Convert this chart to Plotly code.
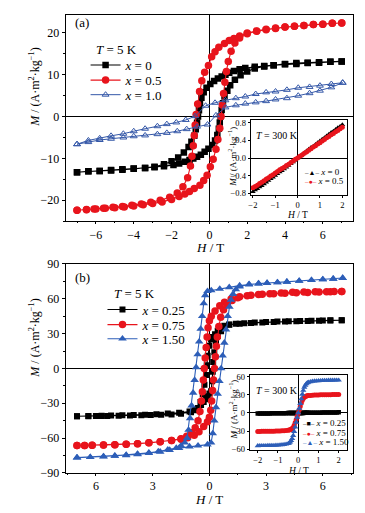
import plotly.graph_objects as go

# page body has an 8px margin: the figure is placed at (8, 8) in the 365x513 window
OFF = 8
W, H = 365 - OFF, 513 - OFF
FONT = "Liberation Serif"
BLACK = "#000000"
RED = "#e8141c"
BLUE_A = "#3558a8"
BLUE_B = "#2d5eb8"

# ---------------- Panel (a): T = 5 K ----------------
a0_H_desc = [7.0, 6.4, 5.8, 5.2, 4.6, 4.0, 3.4, 2.9, 2.4, 1.9, 1.6, 1.3, 1.05, 0.85, 0.65, 0.45, 0.25, 0.05,
             -0.15, -0.3, -0.42, -0.5, -0.55, -0.6, -0.65, -0.72, -0.8, -0.95, -1.1, -1.35, -1.65, -2.0,
             -2.4, -2.9, -3.4, -4.0, -4.6, -5.2, -5.8, -6.4, -7.0]
a0_M_desc = [13.2, 13.1, 12.9, 12.8, 12.6, 12.5, 12.3, 12.1, 11.9, 11.6, 11.3, 10.9, 10.5, 10.0, 9.6, 9.1, 8.5, 7.8,
             6.9, 5.8, 4.5, 3.0, 1.5, 0.0, -1.5, -3.0, -4.6, -6.0, -7.3, -8.6, -9.8, -10.7,
             -11.4, -12.0, -12.3, -12.5, -12.7, -12.9, -13.0, -13.1, -13.3]
a0_H_asc = [-7.0, -6.4, -5.8, -5.2, -4.6, -4.0, -3.4, -2.9, -2.4, -1.9, -1.6, -1.3, -1.05, -0.85, -0.65, -0.45,
            -0.25, -0.05, 0.15, 0.3, 0.42, 0.5, 0.55, 0.6, 0.65, 0.72, 0.8, 0.95, 1.1, 1.35, 1.65, 2.0,
            2.4, 2.9, 3.4, 4.0, 4.6, 5.2, 5.8, 6.4, 7.0]
a0_M_asc = [-13.3, -13.1, -13.0, -12.8, -12.6, -12.4, -12.3, -12.1, -11.9, -11.6, -11.2, -10.8, -10.4, -10.0,
            -9.6, -9.1, -8.4, -7.7, -6.8, -5.7, -4.4, -2.9, -1.4, 0.1, 1.6, 3.2, 4.8, 6.2, 7.5, 8.8, 9.9, 10.8,
            11.5, 12.0, 12.3, 12.6, 12.8, 12.9, 13.0, 13.1, 13.2]

a5_H_desc = [7.0, 6.5, 6.0, 5.5, 5.0, 4.5, 4.0, 3.5, 3.0, 2.5, 2.0, 1.6, 1.3, 1.05, 0.8, 0.5, 0.3, 0.12, -0.05,
             -0.25, -0.4, -0.52, -0.62, -0.7, -0.75, -0.8, -0.85, -0.92, -1.0, -1.15, -1.4, -1.7, -2.1, -2.6,
             -3.1, -3.6, -4.1, -4.6, -5.1, -5.6, -6.1, -6.5, -7.0]
a5_M_desc = [22.4, 22.3, 22.1, 22.0, 21.8, 21.6, 21.4, 21.2, 20.9, 20.5, 20.0, 19.3, 18.7, 18.2, 17.5, 16.6, 15.5,
             14.3, 12.2, 10.6, 8.6, 6.0, 3.0, 0.5, -2.0, -4.5, -7.0, -9.5, -11.8, -14.6, -16.8, -18.3, -19.3,
             -20.0, -20.5, -20.9, -21.2, -21.5, -21.7, -21.9, -22.1, -22.2, -22.4]
a5_H_asc = [-7.0, -6.5, -6.0, -5.5, -5.0, -4.5, -4.0, -3.5, -3.0, -2.5, -2.0, -1.6, -1.3, -1.05, -0.8, -0.5, -0.3,
            -0.12, 0.05, 0.2, 0.35, 0.45, 0.55, 0.62, 0.68, 0.75, 0.82, 0.9, 1.0, 1.15, 1.35, 1.6, 2.0, 2.5,
            3.0, 3.5, 4.0, 4.5, 5.0, 5.5, 6.0, 6.5, 7.0]
a5_M_asc = [-22.4, -22.3, -22.1, -21.9, -21.8, -21.6, -21.4, -21.1, -20.8, -20.4, -19.8, -19.1, -18.5, -17.9,
            -17.2, -16.4, -15.3, -14.0, -12.0, -10.2, -7.8, -5.5, -2.8, 0.0, 2.8, 5.5, 8.2, 10.8, 13.2, 15.6,
            17.6, 18.8, 19.8, 20.4, 20.8, 21.1, 21.4, 21.6, 21.8, 22.0, 22.1, 22.3, 22.4]

a10_H_desc = [7.05, 6.45, 5.85, 5.3, 4.7, 4.1, 3.5, 3.0, 2.45, 1.9, 1.4, 0.85, 0.3, -0.2, -0.75, -1.25, -1.75,
              -2.25, -2.75, -3.4, -4.0, -4.55, -5.2, -5.8, -6.4, -7.0]
a10_M_desc = [8.1, 7.8, 7.4, 7.1, 6.9, 6.4, 6.0, 5.8, 5.4, 4.8, 4.4, 3.9, 3.3, 2.6, 0.1, -0.8, -1.4, -1.8, -2.3,
              -2.9, -3.5, -4.1, -4.6, -5.2, -5.7, -6.6]
a10_H_asc = [-7.0, -6.4, -5.8, -5.2, -4.55, -4.0, -3.4, -2.75, -2.25, -1.7, -1.2, -0.65, -0.1, 0.35, 0.85, 1.4,
             1.9, 2.45, 3.0, 3.5, 4.1, 4.7, 5.3, 5.85, 6.45, 7.05]
a10_M_asc = [-6.6, -6.1, -5.6, -5.3, -5.0, -4.7, -4.5, -4.2, -3.9, -3.5, -3.0, -2.4, -1.9, 0.3, 2.2, 2.7, 3.1,
             3.4, 3.7, 4.1, 4.4, 5.0, 5.6, 6.2, 7.0, 8.1]

# Inset (a): T = 300 K
ai_H = [-2.0, -1.9, -1.8, -1.7, -1.6, -1.5, -1.4, -1.3, -1.2, -1.1, -1.0, -0.9, -0.8, -0.7, -0.6, -0.5, -0.4,
        -0.3, -0.2, -0.1, 0.0, 0.1, 0.2, 0.3, 0.4, 0.5, 0.6, 0.7, 0.8, 0.9, 1.0, 1.1, 1.2, 1.3, 1.4, 1.5, 1.6,
        1.7, 1.8, 1.9, 2.0]
ai_M0 = [-0.77, -0.73, -0.70, -0.66, -0.63, -0.59, -0.55, -0.51, -0.47, -0.44, -0.40, -0.36, -0.32, -0.29, -0.25,
         -0.21, -0.17, -0.13, -0.09, -0.05, 0.0, 0.04, 0.08, 0.12, 0.16, 0.20, 0.24, 0.27, 0.31, 0.35, 0.39, 0.43,
         0.46, 0.50, 0.54, 0.58, 0.61, 0.65, 0.69, 0.72, 0.76]
ai_M5 = [-0.68, -0.65, -0.62, -0.58, -0.55, -0.52, -0.48, -0.45, -0.41, -0.38, -0.34, -0.31, -0.27, -0.24, -0.21,
         -0.17, -0.14, -0.10, -0.07, -0.03, 0.0, 0.04, 0.07, 0.11, 0.14, 0.18, 0.21, 0.25, 0.28, 0.32, 0.35, 0.39,
         0.42, 0.46, 0.49, 0.53, 0.56, 0.60, 0.63, 0.67, 0.70]

# ---------------- Panel (b): T = 5 K ----------------
b25_H_desc = [7.0, 6.4, 5.8, 5.2, 4.6, 4.0, 3.4, 2.8, 2.2, 1.6, 1.05, 0.79, 0.6, 0.44, 0.3, 0.18, 0.09, 0.0, -0.09,
              -0.14, -0.18, -0.26, -0.35, -0.47, -0.7, -0.97, -1.5, -2.0, -2.55, -3.1, -3.6, -4.2, -4.8,
              -5.4, -5.7, -6.0, -6.4, -7.0]
b25_M_desc = [41.5, 41.3, 41.1, 40.9, 40.6, 40.3, 40.0, 39.6, 39.1, 38.5, 37.8, 36.8, 35.0, 32.5, 29.5, 27.0,
              25.0, 19.6, 11.0, 2.8, -5.6, -14.0, -22.0, -29.0, -35.0, -37.7, -39.0, -39.6, -40.0, -40.2,
              -40.4, -40.6, -40.8, -40.9, -41.0, -41.0, -41.1, -41.2]
b25_H_asc = [-7.0, -6.4, -5.85, -5.7, -5.2, -4.6, -4.0, -3.4, -2.8, -2.2, -1.6, -1.05, -0.79, -0.6, -0.44, -0.3,
             -0.18, -0.09, 0.0, 0.09, 0.14, 0.18, 0.2, 0.26, 0.35, 0.44, 0.62, 0.79, 1.05, 1.4, 1.85, 2.4, 3.0,
             3.6, 4.2, 4.8, 5.4, 6.0, 6.4, 7.0]
b25_M_asc = [-41.2, -41.0, -40.9, -40.8, -40.6, -40.4, -40.1, -39.8, -39.4, -38.9, -38.2, -37.2, -36.0, -34.0,
             -31.5, -29.0, -26.5, -24.0, -21.5, -19.6, -11.0, -2.8, 5.6, 14.0, 22.0, 28.0, 32.0, 35.0, 37.7, 38.5,
             39.0, 39.5, 39.9, 40.3, 40.6, 40.9, 41.1, 41.3, 41.4, 41.5]

b75_H_desc = [7.0, 6.4, 5.8, 5.2, 4.6, 4.0, 3.4, 2.8, 2.2, 1.6, 1.15, 0.8, 0.55, 0.3, 0.1, 0.0, -0.07, -0.12,
              -0.17, -0.22, -0.27, -0.32, -0.37, -0.42, -0.5, -0.6, -0.75, -0.95, -1.2, -1.5, -2.0, -2.6, -3.2,
              -3.8, -4.4, -5.0, -5.6, -6.2, -6.6, -7.0]
b75_M_desc = [66.2, 66.0, 65.7, 65.4, 65.1, 64.7, 64.3, 63.8, 63.0, 61.8, 59.8, 57.0, 54.0, 49.5, 45.0, 41.0, 35.0,
              27.0, 18.0, 9.0, 0.0, -10.0, -20.0, -28.0, -37.0, -45.0, -51.0, -55.5, -58.5, -60.5, -62.0, -63.2,
              -64.1, -64.8, -65.3, -65.7, -66.0, -66.2, -66.3, -66.4]
b75_H_asc = [-7.0, -6.6, -6.2, -5.6, -5.0, -4.4, -3.8, -3.2, -2.6, -2.0, -1.5, -1.15, -0.8, -0.55, -0.3, -0.1, 0.0,
             0.07, 0.12, 0.17, 0.22, 0.27, 0.32, 0.37, 0.42, 0.5, 0.6, 0.75, 0.95, 1.2, 1.5, 2.0, 2.6, 3.2, 3.8,
             4.4, 5.0, 5.6, 6.2, 6.6, 7.0]
b75_M_asc = [-66.4, -66.3, -66.2, -66.0, -65.7, -65.3, -64.8, -64.1, -63.2, -62.0, -61.0, -59.8, -57.5, -54.5,
             -50.0, -46.0, -42.0, -36.0, -28.0, -19.0, -10.0, 0.0, 10.0, 19.0, 27.0, 36.0, 44.0, 50.5, 55.0, 58.5,
             60.8, 62.5, 63.6, 64.4, 65.0, 65.5, 65.8, 66.0, 66.1, 66.2, 66.3]

b150_H_desc = [7.05, 6.55, 6.0, 5.4, 4.75, 4.1, 3.6, 3.05, 2.6, 2.1, 1.6, 1.05, 0.55, 0.1, -0.1, -0.22, -0.3,
               -0.38, -0.46, -0.54, -0.62, -0.7, -0.78, -0.86, -0.94, -1.02, -1.1, -1.18, -1.3, -1.5, -1.75, -2.2,
               -2.7, -3.2, -3.8, -4.4, -5.0, -5.6, -6.3, -7.0]
b150_M_desc = [77.8, 77.2, 76.6, 76.0, 75.3, 74.6, 74.0, 73.5, 73.1, 72.5, 71.3, 69.8, 68.4, 67.2, 66.5, 63.0, 56.0,
               45.0, 34.0, 23.0, 12.0, 1.0, -10.0, -21.0, -32.0, -43.0, -53.0, -60.0, -64.0, -66.5, -68.5, -70.0,
               -71.5, -72.6, -73.6, -74.5, -75.2, -75.8, -76.4, -76.8]
b150_H_asc = [-7.0, -6.3, -5.6, -5.0, -4.4, -3.8, -3.2, -2.6, -2.1, -1.6, -1.05, -0.6, -0.1, 0.09, 0.18, 0.26,
              0.35, 0.44, 0.53, 0.62, 0.7, 0.79, 0.88, 0.97, 1.06, 1.14, 1.25, 1.4, 1.6, 2.1, 2.6, 3.05, 3.6, 4.1,
              4.75, 5.4, 6.0, 6.55, 7.05]
b150_M_asc = [-76.8, -76.4, -75.9, -75.4, -74.8, -74.0, -73.0, -71.8, -70.3, -68.6, -67.3, -66.5, -65.6, -64.0,
              -56.0, -45.0, -33.5, -22.0, -11.0, 0.0, 11.0, 22.0, 33.5, 45.0, 53.0, 59.0, 64.0, 68.0, 70.5, 72.2,
              73.1, 73.5, 74.0, 74.6, 75.3, 76.0, 76.6, 77.2, 77.8]

# Inset (b): T = 300 K
bi_H = [-2.0, -1.9, -1.8, -1.7, -1.6, -1.5, -1.4, -1.3, -1.2, -1.1, -1.0, -0.9, -0.8, -0.7, -0.6,
        -0.5, -0.45, -0.4, -0.35, -0.3, -0.25, -0.2, -0.15, -0.1, -0.05, 0.0, 0.05, 0.1, 0.15, 0.2, 0.25,
        0.3, 0.35, 0.4, 0.45, 0.5,
        0.6, 0.7, 0.8, 0.9, 1.0, 1.1, 1.2, 1.3, 1.4, 1.5, 1.6, 1.7, 1.8, 1.9, 2.0]
bi_M25 = [-1.0, -0.95, -0.9, -0.85, -0.8, -0.75, -0.7, -0.65, -0.6, -0.55, -0.5, -0.45, -0.4, -0.35, -0.3,
          -0.25, -0.22, -0.2, -0.17, -0.15, -0.12, -0.1, -0.07, -0.05, -0.02, 0.0, 0.02, 0.05, 0.07, 0.1, 0.12,
          0.15, 0.17, 0.2, 0.22, 0.25,
          0.3, 0.35, 0.4, 0.45, 0.5, 0.55, 0.6, 0.65, 0.7, 0.75, 0.8, 0.85, 0.9, 0.95, 1.0]
bi_M75 = [-30.6, -30.6, -30.5, -30.5, -30.4, -30.4, -30.3, -30.3, -30.2, -30.1, -30.0, -29.9, -29.7, -29.5, -29.2,
          -28.8, -28.5, -28.0, -27.2, -26.0, -24.0, -20.5, -16.0, -10.8, -5.4, 0.0, 5.4, 10.8, 16.0, 20.5, 24.0,
          26.0, 27.2, 28.0, 28.5, 28.8,
          29.2, 29.5, 29.7, 29.9, 30.0, 30.1, 30.2, 30.3, 30.3, 30.4, 30.4, 30.5, 30.5, 30.6, 30.6]
bi_M150 = [-54.5, -54.4, -54.4, -54.3, -54.3, -54.2, -54.1, -54.0, -53.9, -53.7, -53.5, -53.2, -52.9, -52.5, -51.8,
           -51.0, -50.0, -48.5, -46.0, -42.5, -37.5, -31.0, -23.5, -15.5, -7.5, 0.0, 7.5, 15.5, 23.5, 31.0, 37.5,
           42.5, 46.0, 48.5, 50.0, 51.0,
           51.8, 52.5, 52.9, 53.2, 53.5, 53.7, 53.9, 54.0, 54.1, 54.2, 54.3, 54.3, 54.4, 54.4, 54.5]

# ---------------- Labels ----------------
legend_title = "<i>T</i> = 5 K"
legend_a_names = ["<i>x</i> = 0", "<i>x</i> = 0.5", "<i>x</i> = 1.0"]
legend_b_names = ["<i>x</i> = 0.25", "<i>x</i> = 0.75", "<i>x</i> = 1.50"]
inset_a_names = ["<i>x</i> = 0", "<i>x</i> = 0.5"]
inset_b_names = ["<i>x</i> = 0.25", "<i>x</i> = 0.75", "<i>x</i> = 1.50"]
b_xtickvals = [-6, -3, 0, 3, 6]
b_xticktext = ["6", "3", "0", "3", "6"]
ytitle = "<i>M</i> / (A·m<sup>2</sup>·kg<sup>−1</sup>)"
xtitle = "<i>H</i> / T"

fig = go.Figure()


def loop(hd, md, ha, ma):
    return hd + ha, md + ma


# Panel (a) main
x, y = loop(a0_H_desc, a0_M_desc, a0_H_asc, a0_M_asc)
fig.add_trace(go.Scatter(x=x, y=y, mode="lines+markers", name=legend_a_names[0], legend="legend",
                         line=dict(color=BLACK, width=1.1),
                         marker=dict(symbol="square", size=6.5, color=BLACK), xaxis="x", yaxis="y"))
x, y = loop(a5_H_desc, a5_M_desc, a5_H_asc, a5_M_asc)
fig.add_trace(go.Scatter(x=x, y=y, mode="lines+markers", name=legend_a_names[1], legend="legend2",
                         line=dict(color=RED, width=1.1),
                         marker=dict(symbol="circle", size=7.5, color=RED), xaxis="x", yaxis="y"))
x, y = loop(a10_H_desc, a10_M_desc, a10_H_asc, a10_M_asc)
fig.add_trace(go.Scatter(x=x, y=y, mode="lines+markers", name=legend_a_names[2], legend="legend3",
                         line=dict(color=BLUE_A, width=1),
                         marker=dict(symbol="triangle-up-open", size=6, color=BLUE_A, line=dict(width=1)),
                         xaxis="x", yaxis="y"))

# Panel (b) main
x, y = loop(b25_H_desc, b25_M_desc, b25_H_asc, b25_M_asc)
fig.add_trace(go.Scatter(x=x, y=y, mode="lines+markers", name=legend_b_names[0], legend="legend4",
                         line=dict(color=BLACK, width=1.1),
                         marker=dict(symbol="square", size=6, color=BLACK), xaxis="x2", yaxis="y2"))
x, y = loop(b75_H_desc, b75_M_desc, b75_H_asc, b75_M_asc)
fig.add_trace(go.Scatter(x=x, y=y, mode="lines+markers", name=legend_b_names[1], legend="legend5",
                         line=dict(color=RED, width=1.1),
                         marker=dict(symbol="circle", size=7.5, color=RED), xaxis="x2", yaxis="y2"))
x, y = loop(b150_H_desc, b150_M_desc, b150_H_asc, b150_M_asc)
fig.add_trace(go.Scatter(x=x, y=y, mode="lines+markers", name=legend_b_names[2], legend="legend6",
                         line=dict(color=BLUE_B, width=1.1),
                         marker=dict(symbol="triangle-up", size=7.5, color=BLUE_B), xaxis="x2", yaxis="y2"))

# Insets
fig.add_trace(go.Scatter(x=ai_H, y=ai_M0, mode="lines+markers", showlegend=False, name=inset_a_names[0],
                         line=dict(color=BLACK, width=1), marker=dict(symbol="triangle-up", size=5, color=BLACK),
                         xaxis="x3", yaxis="y3"))
fig.add_trace(go.Scatter(x=ai_H, y=ai_M5, mode="lines+markers", showlegend=False, name=inset_a_names[1],
                         line=dict(color=RED, width=1), marker=dict(symbol="circle", size=5, color=RED),
                         xaxis="x3", yaxis="y3"))
fig.add_trace(go.Scatter(x=bi_H, y=bi_M25, mode="lines+markers", showlegend=False, name=inset_b_names[0],
                         line=dict(color=BLACK, width=1), marker=dict(symbol="square", size=4.5, color=BLACK),
                         xaxis="x4", yaxis="y4"))
fig.add_trace(go.Scatter(x=bi_H, y=bi_M75, mode="lines+markers", showlegend=False, name=inset_b_names[1],
                         line=dict(color=RED, width=1), marker=dict(symbol="circle", size=5, color=RED),
                         xaxis="x4", yaxis="y4"))
fig.add_trace(go.Scatter(x=bi_H, y=bi_M150, mode="lines+markers", showlegend=False, name=inset_b_names[2],
                         line=dict(color=BLUE_B, width=1), marker=dict(symbol="triangle-up", size=5.5, color=BLUE_B),
                         xaxis="x4", yaxis="y4"))


def px_x(v):
    return min(1.0, max(0.0, (v - OFF) / W))


def px_y(v):
    return min(1.0, max(0.0, 1 - (v - OFF) / H))


def axis(domain, rng, tickfont=12, **kw):
    d = dict(domain=domain, range=rng, showgrid=False, zeroline=True, zerolinecolor=BLACK, zerolinewidth=1,
             showline=True, linecolor=BLACK, linewidth=1, mirror=True, ticks="outside", ticklen=3,
             tickwidth=1, tickcolor=BLACK, tickfont=dict(family=FONT, size=tickfont, color=BLACK))
    d.update(kw)
    return d


main_x = [px_x(64), px_x(353)]
fig.update_layout(
    width=W, height=H, margin=dict(l=0, r=0, t=0, b=0),
    paper_bgcolor="white", plot_bgcolor="rgba(0,0,0,0)",
    font=dict(family=FONT, color=BLACK),
    xaxis=axis(main_x, [-7.6, 7.6], anchor="y", dtick=2, ticklen=2,
               minor=dict(dtick=1, ticks="outside", ticklen=1)),
    yaxis=axis([px_y(220), px_y(8)], [-25, 24.3], anchor="x", dtick=10,
               minor=dict(dtick=5, ticks="outside", ticklen=2)),
    xaxis2=axis(main_x, [-7.6, 7.6], anchor="y2", tickvals=b_xtickvals, ticktext=b_xticktext, ticklen=2,
                minor=dict(dtick=1.5, ticks="outside", ticklen=1)),
    yaxis2=axis([px_y(479), px_y(264)], [-90, 90], anchor="x2", dtick=30,
                minor=dict(dtick=15, ticks="outside", ticklen=2)),
    xaxis3=axis([px_x(250), px_x(346.7)], [-2.1, 2.2], anchor="y3", dtick=1, tickfont=8.5, ticklen=2),
    yaxis3=axis([px_y(193), px_y(116.3)], [-0.84, 0.86], anchor="x3", tickvals=[-0.8, -0.4, 0, 0.4, 0.8],
                tickformat=".1f", tickfont=8.5, ticklen=2),
    xaxis4=axis([px_x(249), px_x(346.7)], [-2.4, 2.4], anchor="y4", dtick=1, tickfont=8.5, ticklen=2),
    yaxis4=axis([px_y(455.7), px_y(378.3)], [-62, 63], anchor="x4", dtick=30, tickfont=8.5, ticklen=2),
)


def leg(xpx, ypx, size=13):
    return dict(x=px_x(xpx), y=px_y(ypx), xanchor="left", yanchor="middle", bgcolor="rgba(0,0,0,0)",
                borderwidth=0, font=dict(family=FONT, size=size, color=BLACK), itemwidth=30,
                tracegroupgap=0, itemclick=False)


fig.update_layout(
    legend=leg(84, 59.5), legend2=leg(84, 75), legend3=leg(84, 90),
    legend4=leg(101, 311), legend5=leg(101, 326.5), legend6=leg(101, 341),
)

ann = []


def text(t, xpx, ypx, size, xanchor="center", angle=0, yanchor="middle"):
    ann.append(dict(text=t, x=px_x(xpx), y=px_y(ypx), xref="paper", yref="paper", showarrow=False,
                    xanchor=xanchor, yanchor=yanchor, textangle=angle,
                    font=dict(family=FONT, size=size, color=BLACK)))


# Panel labels & legend titles
text("(a)", 71, 16, 13, xanchor="left")
text("(b)", 71, 278, 13, xanchor="left")
text(legend_title, 92, 43.5, 13, xanchor="left")
text(legend_title, 111, 294, 13, xanchor="left")
# Axis titles (main)
text(ytitle, 33, 82, 12, angle=-90)
text(ytitle, 33, 340, 12, angle=-90)
text(xtitle, 209, 247, 13)
text(xtitle, 208, 506, 13)
# Inset titles
text("<i>T</i> = 300 K", 253, 132, 10, xanchor="left")
text("<i>T</i> = 300 K", 253, 394, 10, xanchor="left")
text(ytitle, 231, 154, 9, angle=-90)
text(ytitle, 232, 414, 9, angle=-90)
text(xtitle, 297, 213.5, 9.5)
text(xtitle, 298, 476.5, 9.5)
# Inset legends
sym = "<span style='color:%s;font-size:7px'>–%s–</span> %s"
text(sym % (BLACK, "▲", inset_a_names[0]), 302, 169.5, 9, xanchor="left")
text(sym % (RED, "●", inset_a_names[1]), 302, 179, 9, xanchor="left")
text(sym % (BLACK, "■", inset_b_names[0]), 300, 428, 9, xanchor="left")
text(sym % (RED, "●", inset_b_names[1]), 300, 437.5, 9, xanchor="left")
text(sym % (BLUE_B, "▲", inset_b_names[2]), 300, 447, 9, xanchor="left")

fig.update_layout(annotations=ann)
fig.write_html("out.html")
